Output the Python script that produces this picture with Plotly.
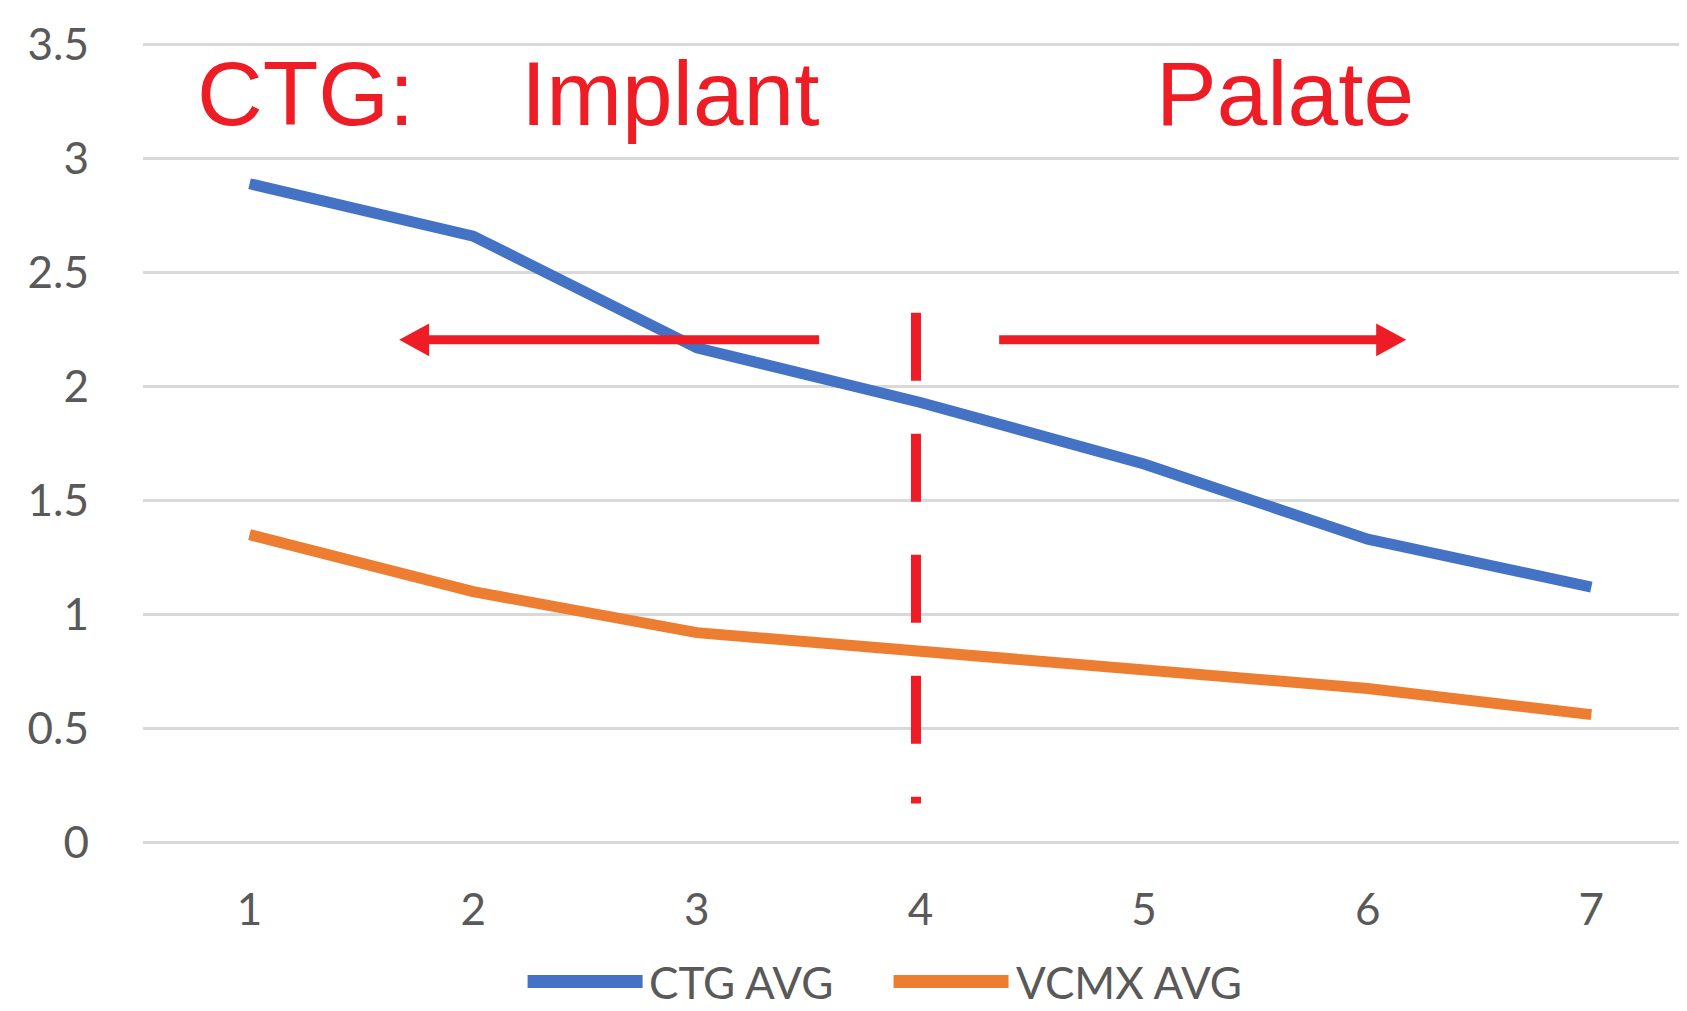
import plotly.graph_objects as go

# ---- data ----
x_vals = [1, 2, 3, 4, 5, 6, 7]
x_tick_labels = ["1", "2", "3", "4", "5", "6", "7"]
ctg_avg = [2.89, 2.66, 2.17, 1.93, 1.66, 1.33, 1.12]
vcmx_avg = [1.35, 1.10, 0.92, 0.84, 0.75, 0.675, 0.56]
series_names = ["CTG AVG", "VCMX AVG"]
series_colors = ["#4472C4", "#ED7D31"]
y_tick_vals = [0, 0.5, 1, 1.5, 2, 2.5, 3, 3.5]
y_tick_labels = ["0", "0.5", "1", "1.5", "2", "2.5", "3", "3.5"]

# annotation words (red overlay)
overlay_words = ["CTG:", "Implant", "Palate"]
overlay_word_x = [0.755, 2.207, 5.044]
overlay_word_y = 3.285
divider_x = 3.98
divider_y = [2.324, 0.17]
arrow_y = 2.205
left_arrow = [3.547, 1.669]   # start, tip
right_arrow = [4.352, 6.172]  # start, tip

RED = "#EE1C25"
TICK_FONT = dict(family="Lato, Carlito, Calibri, sans-serif", size=44, color="#595959")

fig = go.Figure()
for name, vals, col in zip(series_names, [ctg_avg, vcmx_avg], series_colors):
    fig.add_trace(go.Scatter(x=x_vals, y=vals, mode="lines", name=name,
                             line=dict(color=col, width=11), showlegend=False))

shapes = []
# dashed divider
shapes.append(dict(type="line", xref="x", yref="y", x0=divider_x, x1=divider_x,
                   y0=divider_y[0], y1=divider_y[1],
                   line=dict(color=RED, width=10, dash="68px,53px")))
# arrows
head_len = 0.134
head_half = 0.072
for start, tip in [left_arrow, right_arrow]:
    d = 1 if tip > start else -1
    base = tip - d * head_len
    shapes.append(dict(type="line", xref="x", yref="y", x0=start, x1=base + d * 0.01,
                       y0=arrow_y, y1=arrow_y, line=dict(color=RED, width=9)))
    shapes.append(dict(type="path", xref="x", yref="y",
                       path=f"M{tip},{arrow_y} L{base},{arrow_y + head_half} L{base},{arrow_y - head_half} Z",
                       fillcolor=RED, line=dict(color=RED, width=0)))

# custom legend (long thick line samples)
legend_line_x = [(0.2478, 0.3219), (0.4836, 0.5577)]
legend_text_x = [0.325, 0.5615]
legend_y = -0.17
annotations = []
for (lx0, lx1), tx, name, col in zip(legend_line_x, legend_text_x, series_names, series_colors):
    shapes.append(dict(type="line", xref="paper", yref="paper", x0=lx0, x1=lx1,
                       y0=legend_y, y1=legend_y, line=dict(color=col, width=13)))
    annotations.append(dict(xref="paper", yref="paper", x=tx, y=legend_y, text=name,
                            showarrow=False, xanchor="left", yanchor="middle",
                            font=TICK_FONT))

for w, wx in zip(overlay_words, overlay_word_x):
    annotations.append(dict(xref="x", yref="y", x=wx, y=overlay_word_y, text=w,
                            showarrow=False, xanchor="left", yanchor="middle",
                            font=dict(family="Liberation Sans Narrow, Arial Narrow, Liberation Sans, sans-serif",
                                      size=91, color=RED)))

fig.update_layout(
    width=1687, height=1011,
    margin=dict(l=135, r=0, t=34, b=174),
    paper_bgcolor="white", plot_bgcolor="white",
    shapes=shapes, annotations=annotations,
    showlegend=False,
)
fig.update_xaxes(range=[0.5235, 7.4635], tickvals=x_vals, ticktext=x_tick_labels,
                 showgrid=False, zeroline=False, showline=False,
                 tickfont=TICK_FONT, ticks="", ticklabelstandoff=35)
fig.update_yaxes(range=[-0.012, 3.512], tickvals=y_tick_vals, ticktext=y_tick_labels,
                 showgrid=True, gridcolor="#D9D9D9", gridwidth=3, zeroline=False,
                 showline=False, tickfont=TICK_FONT, ticks="", ticklabelstandoff=53)

fig.write_html("out.html")
